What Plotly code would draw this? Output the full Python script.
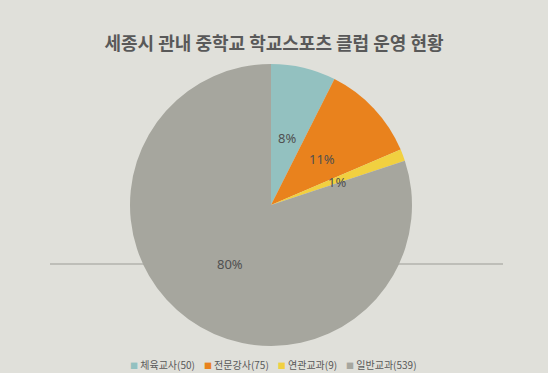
import math
import plotly.graph_objects as go

categories = ["체육교사", "전문강사", "연관교과", "일반교과"]
values = [50, 75, 9, 539]
pct_labels = ["8%", "11%", "1%", "80%"]
colors = ["#93c1c0", "#e9821d", "#f1d040", "#a6a69e"]
title = "세종시 관내 중학교 학교스포츠 클럽 운영 현황"

W, H = 548, 373
ml, mr, mt, mb = 0, 6, 64, 27
pw, ph = W - ml - mr, H - mt - mb
R = min(pw, ph) / 2
cx, cy = ml + pw / 2, mt + ph / 2  # pie centre in pixels


def to_paper(x_px, y_px):
    return (x_px - ml) / pw, (H - mb - y_px) / ph


legend_labels = [f"{c}({v})" for c, v in zip(categories, values)]

fig = go.Figure(go.Pie(
    labels=legend_labels,
    values=values,
    sort=False,
    direction="clockwise",
    rotation=0,
    marker=dict(colors=colors, line=dict(width=0)),
    textinfo="none",
    hoverinfo="label+percent",
    domain=dict(x=[0, 1], y=[0, 1]),
    showlegend=False,
))

# percentage labels placed at slice mid-angles
total = sum(values)
cum = 0
for v, t in zip(values, pct_labels):
    mid = (cum + v / 2) / total * 2 * math.pi
    cum += v
    r = 0.5 * R
    lx, ly = to_paper(cx + r * math.sin(mid), cy - r * math.cos(mid) + 2)
    fig.add_annotation(
        x=lx, y=ly, xref="paper", yref="paper",
        text=t, showarrow=False, xanchor="center", yanchor="middle",
        font=dict(family="Noto Sans, Noto Sans CJK KR", size=13, color="#505050"),
    )

# compact legend as a text row
legend_html = "&nbsp;&nbsp;&nbsp;&nbsp;".join(
    f'<span style="color:{c};font-size:8px">■</span>&nbsp;{lab}' for c, lab in zip(colors, legend_labels)
)
gx, gy = to_paper(273, 364)
fig.add_annotation(
    x=gx, y=gy, xref="paper", yref="paper",
    text=legend_html, showarrow=False, xanchor="center", yanchor="middle",
    font=dict(family="Noto Sans CJK KR", size=10, color="#595959"),
)

x0, ly0 = to_paper(50, 264)
x1, _ = to_paper(503, 264)
fig.add_shape(type="line", xref="paper", yref="paper",
              x0=x0, x1=x1, y0=ly0, y1=ly0,
              line=dict(color="#b3b3ac", width=1.5), layer="below")

fig.update_layout(
    width=W, height=H,
    margin=dict(l=ml, r=mr, t=mt, b=mb),
    paper_bgcolor="#e0e0da",
    plot_bgcolor="#e0e0da",
    title=dict(text=f"<b>{title}</b>", x=0.5, xanchor="center", y=1 - 44 / H, yanchor="middle",
               font=dict(family="Noto Sans CJK KR", size=18, color="#595959")),
    showlegend=False,
)

fig.write_html("out.html")
